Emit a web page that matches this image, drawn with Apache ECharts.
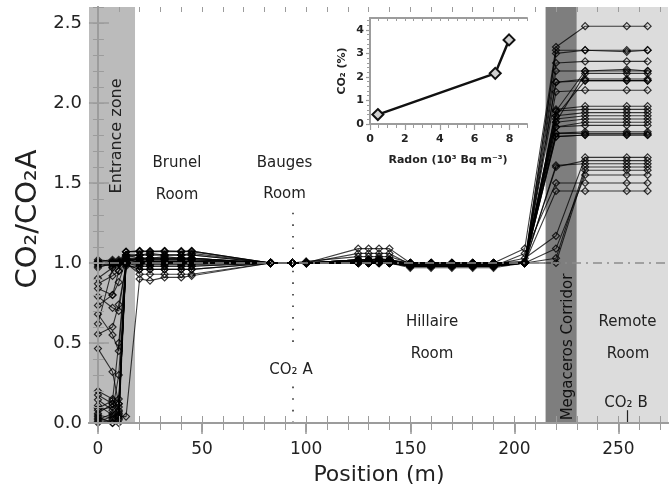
<!DOCTYPE html>
<html>
<head>
<meta charset="utf-8">
<script src="https://cdn.jsdelivr.net/npm/echarts@6/dist/echarts.min.js"></script>
<style>
html,body{margin:0;padding:0;background:#fff}
#chart{width:669px;height:491px}
</style>
</head>
<body>
<div id="chart"></div>
<script>
// measuring positions along the cave (m)
var positions = [0, 7, 10, 13.5, 20, 25, 32, 40, 45, 83, 93.5, 100, 125, 130, 135, 140, 150, 160, 170, 180, 190, 205, 220, 234, 254, 264];

// CO2/CO2A profiles, one value per position
var profile01 = [1.01,1.00,1.01,1.07, 1.07,1.07,1.07,1.07,1.07, 1.0,1.0,1.0, 1.09,1.09,1.09,1.09, 1.0,1.0,1.0,0.99,1.0, 1.09, 2.35, 2.48,2.48,2.48];
var profile02 = [1.00,1.01,1.00,1.05, 1.05,1.06,1.05,1.05,1.06, 1.0,1.0,1.0, 1.06,1.06,1.06,1.06, 0.99,0.99,0.99,0.99,0.99, 1.0, 2.33, 2.33,2.33,2.33];
var profile03 = [0.99,1.00,1.02,1.03, 1.03,1.03,1.04,1.03,1.03, 1.0,1.0,1.01, 1.04,1.04,1.04,1.04, 1.0,1.0,1.0,1.0,1.0, 1.01, 2.31, 2.33,2.32,2.33];
var profile04 = [1.02,1.01,1.00,1.00, 1.01,1.01,1.00,1.01,1.00, 1.0,1.0,1.0, 1.02,1.02,1.02,1.02, 0.98,0.98,0.98,0.98,0.98, 1.0, 2.25, 2.26,2.26,2.26];
var profile05 = [0.98,0.99,1.00,1.01, 1.00,1.00,1.00,1.00,1.00, 1.0,1.0,1.0, 1.01,1.01,1.01,1.01, 0.99,0.99,0.99,0.99,0.99, 1.0, 1.95, 2.20,2.20,2.20];
var profile06 = [1.00,0.98,0.99,1.00, 0.98,0.98,0.98,0.98,0.98, 1.0,1.0,1.0, 1.02,1.02,1.03,1.02, 1.0,1.0,1.0,1.0,1.0, 1.0, 2.20, 2.20,2.21,2.20];
var profile07 = [0.97,1.00,1.01,1.02, 1.02,1.02,1.02,1.02,1.02, 1.0,1.0,1.0, 1.00,1.00,1.00,1.00, 0.98,0.98,0.98,0.98,0.98, 1.0, 1.88, 2.185,2.185,2.185];
var profile08 = [1.01,1.02,1.00,0.99, 0.96,0.96,0.96,0.96,0.96, 1.0,1.0,1.0, 1.01,1.01,1.01,1.01, 0.99,0.99,0.99,0.99,0.99, 1.0, 2.13, 2.15,2.15,2.15];
var profile09 = [0.905,0.97,1.00,1.04, 1.05,1.05,1.05,1.05,1.05, 1.0,1.0,1.0, 1.02,1.02,1.02,1.02, 1.0,1.0,1.0,1.0,1.0, 1.0, 2.13, 2.14,2.14,2.14];
var profile10 = [0.87,0.92,0.95,1.00, 1.00,1.00,1.00,1.00,1.00, 1.0,1.0,1.0, 1.00,1.00,1.00,1.00, 0.99,0.99,0.99,0.99,0.99, 1.0, 1.92, 2.14,2.14,2.14];
var profile11 = [0.84,0.80,0.88,1.02, 1.03,1.03,1.03,1.03,1.03, 1.0,1.0,1.0, 1.01,1.01,1.01,1.01, 0.98,0.98,0.98,0.98,0.98, 1.0, 2.07, 2.08,2.08,2.08];
var profile12 = [0.79,0.72,0.70,1.00, 1.01,1.01,1.01,1.01,1.01, 1.0,1.0,1.0, 1.00,1.00,1.00,1.00, 1.0,1.0,1.0,1.0,1.0, 1.0, 1.96, 1.98,1.98,1.98];
var profile13 = [0.735,0.80,0.95,1.07, 1.075,1.075,1.075,1.075,1.075, 1.0,1.0,1.0, 1.02,1.02,1.02,1.02, 0.99,0.99,0.99,0.99,0.99, 1.0, 1.95, 1.96,1.96,1.96];
var profile14 = [0.68,0.55,0.45,1.00, 1.00,1.00,1.00,1.00,1.00, 1.0,1.0,1.0, 1.00,1.00,1.00,1.00, 0.97,0.97,0.97,0.97,0.97, 1.0, 1.92, 1.94,1.94,1.94];
var profile15 = [0.62,0.97,1.00,1.03, 1.02,1.02,1.02,1.02,1.02, 1.0,1.0,1.0, 1.01,1.01,1.01,1.01, 1.0,1.0,1.0,1.0,1.0, 1.0, 1.90, 1.92,1.92,1.92];
var profile16 = [0.555,0.60,0.74,0.98, 0.98,0.98,0.98,0.98,0.98, 1.0,1.0,1.0, 1.00,1.00,1.00,1.00, 0.99,0.99,0.99,0.99,0.99, 1.0, 1.88, 1.90,1.90,1.90];
var profile17 = [0.465,0.32,0.12,1.05, 1.05,1.05,1.05,1.05,1.05, 1.0,1.0,1.0, 1.02,1.02,1.02,1.02, 0.98,0.98,0.98,0.98,0.98, 1.0, 1.85, 1.88,1.88,1.88];
var profile18 = [0.20,0.15,0.08,1.00, 1.00,1.00,1.00,1.00,1.00, 1.0,1.0,1.0, 1.00,1.00,1.00,1.00, 1.0,1.0,1.0,1.0,1.0, 1.0, 1.85, 1.86,1.86,1.86];
var profile19 = [0.175,0.12,0.05,1.02, 1.01,1.01,1.01,1.01,1.01, 1.0,1.0,1.0, 1.00,1.00,1.00,1.00, 0.99,0.99,0.99,0.99,0.99, 1.0, 1.81, 1.82,1.82,1.82];
var profile20 = [0.145,0.08,0.30,1.00, 1.00,1.00,1.00,1.00,1.00, 1.0,1.0,1.0, 1.01,1.01,1.01,1.01, 0.99,0.99,0.99,0.99,0.99, 1.0, 1.81, 1.81,1.81,1.81];
var profile21 = [0.11,0.05,0.02,1.07, 1.075,1.07,1.075,1.07,1.075, 1.0,1.0,1.0, 1.00,1.00,1.00,1.00, 0.98,0.98,0.98,0.98,0.98, 1.0, 1.79, 1.80,1.80,1.80];
var profile22 = [0.08,0.10,0.12,1.00, 0.99,0.99,0.99,0.99,0.99, 1.0,1.0,1.0, 1.00,1.00,1.00,1.00, 1.0,1.0,1.0,1.0,1.0, 1.0, 1.79, 1.80,1.80,1.80];
var profile23 = [0.05,0.03,0.06,1.01, 1.03,1.03,1.03,1.03,1.03, 1.0,1.0,1.0, 1.01,1.01,1.01,1.01, 0.99,0.99,0.99,0.99,0.99, 1.03, 1.17, 1.66,1.66,1.66];
var profile24 = [0.03,0.00,0.04,0.04, 0.90,0.89,0.91,0.91,0.92, 1.0,1.0,1.0, 1.00,1.00,1.00,1.00, 0.99,0.99,0.99,0.99,0.99, 1.0, 1.60, 1.64,1.64,1.64];
var profile25 = [0.02,0.06,0.10,1.03, 1.00,1.00,1.00,1.00,1.00, 1.0,1.0,1.0, 1.00,1.00,1.00,1.00, 0.98,0.98,0.98,0.98,0.98, 1.0, 1.61, 1.62,1.62,1.62];
var profile26 = [0.00,0.02,0.00,1.00, 1.01,1.01,1.01,1.01,1.01, 1.0,1.0,1.0, 1.01,1.01,1.01,1.01, 0.99,0.99,0.99,0.99,0.99, 1.0, 1.03, 1.60,1.60,1.60];
var profile27 = [0.06,0.12,0.15,0.99, 0.96,0.96,0.96,0.96,0.96, 1.0,1.0,1.0, 1.00,1.00,1.00,1.00, 1.0,1.0,1.0,1.0,1.0, 1.0, 1.00, 1.58,1.58,1.58];
var profile28 = [0.01,0.04,0.07,1.02, 1.02,1.02,1.02,1.02,1.02, 1.0,1.0,1.0, 1.02,1.02,1.02,1.02, 0.99,0.99,0.99,0.99,0.99, 1.0, 1.09, 1.55,1.55,1.55];
var profile29 = [0.04,0.00,0.03,1.05, 1.03,1.03,1.03,1.03,1.03, 1.0,1.0,1.0, 1.00,1.00,1.00,1.00, 0.98,0.98,0.98,0.98,0.98, 1.06, 1.50, 1.50,1.50,1.50];
var profile30 = [0.09,0.14,0.50,1.00, 0.93,0.93,0.93,0.93,0.93, 1.0,1.0,1.0, 1.00,1.00,1.00,1.00, 0.99,0.99,0.99,0.99,0.99, 1.0, 1.45, 1.45,1.45,1.45];
var profiles = [profile01,profile02,profile03,profile04,profile05,profile06,profile07,profile08,profile09,profile10,
                profile11,profile12,profile13,profile14,profile15,profile16,profile17,profile18,profile19,profile20,
                profile21,profile22,profile23,profile24,profile25,profile26,profile27,profile28,profile29,profile30];

// inset: CO2 (%) vs radon
var radon = [0.45, 7.18, 7.97];
var co2pct = [0.40, 2.15, 3.57];

// zones and reference positions (m)
var entranceEnd = 17.8;
var corridorStart = 215;
var corridorEnd = 230;
var co2aPos = 93.5;
var co2bPos = 254.2;

// tick labels
var xMajor = [0, 50, 100, 150, 200, 250];
var yMajor = [0, 0.5, 1.0, 1.5, 2.0, 2.5];
var insetXMajor = [0, 2, 4, 6, 8];
var insetYMajor = [0, 1, 2, 3, 4];

function steps(a, b, s){
  var out = [];
  for (var v = a; v <= b + 1e-9; v += s) out.push(Math.round(v * 1000) / 1000);
  return out;
}
var xMinor = steps(0, 270, 10);
var yMinor = steps(0, 2.6, 0.1);
var insetXMinor = steps(0, 9, 0.5);
var insetYMinor = steps(0, 4.4, 0.2);

var XMIN = -4.3, XMAX = 273.8;
var FONT = 'DejaVu Sans';
var FRAME = '#9c9c9c';
var INK = '#222';

var chart = echarts.init(document.getElementById('chart'), null, {renderer: 'canvas'});

// helper: an axis that only draws ticks (drawn above the shaded zones)
function tickAxis(base, ticks, len, inside, width, line){
  return Object.assign({
    type: 'value', z: 10,
    splitLine: {show: false},
    axisLabel: {show: false},
    axisLine: {show: !!line, lineStyle: {color: FRAME, width: 2}},
    axisTick: {show: true, customValues: ticks, length: len, inside: inside,
               lineStyle: {color: FRAME, width: width}}
  }, base);
}

var mainX = {gridIndex: 0, min: XMIN, max: XMAX};
var mainY = {gridIndex: 0, min: 0, max: 2.6};
var insX = {gridIndex: 1, min: 0, max: 9};
var insY = {gridIndex: 1, min: 0, max: 4.5};

var xAxes = [
  tickAxis(Object.assign({position: 'bottom'}, mainX), xMajor, 11, false, 1.5, true),
  tickAxis(Object.assign({position: 'bottom'}, mainX), xMinor, 7, false, 1),
  tickAxis(Object.assign({position: 'bottom'}, mainX), xMinor, 7, true, 1),
  tickAxis(Object.assign({position: 'top'}, mainX), xMajor, 9, true, 1.5, true),
  tickAxis(Object.assign({position: 'top'}, mainX), xMinor, 5, true, 1),
  tickAxis(Object.assign({position: 'bottom'}, insX), insetXMajor, 6, false, 1.2, true),
  tickAxis(Object.assign({position: 'bottom'}, insX), insetXMinor, 4, false, 1),
  tickAxis(Object.assign({position: 'top'}, insX), insetXMinor, 3, true, 1, true)
];
xAxes[0].axisLabel = {show: true, customValues: xMajor, margin: 18, color: INK,
                      fontFamily: FONT, fontSize: 17};
xAxes[5].axisLabel = {show: true, customValues: insetXMajor, margin: 10, color: INK,
                      fontFamily: FONT, fontSize: 11, fontWeight: 'bold'};

var yAxes = [
  tickAxis(Object.assign({position: 'left'}, mainY), yMajor, 11, true, 1.5, true),
  tickAxis(Object.assign({position: 'left'}, mainY), yMinor, 6, true, 1),
  tickAxis(Object.assign({position: 'right'}, mainY), yMajor, 9, true, 1.5, true),
  tickAxis(Object.assign({position: 'right'}, mainY), yMinor, 5, true, 1),
  tickAxis(Object.assign({position: 'left'}, insY), insetYMajor, 4, false, 1.2, true),
  tickAxis(Object.assign({position: 'right'}, insY), insetYMinor, 3, true, 1, true)
];
yAxes[0].axisLabel = {show: true, customValues: yMajor, margin: 7, color: INK,
                      fontFamily: FONT, fontSize: 18,
                      formatter: function (v){ return v.toFixed(1); }};
yAxes[4].axisLabel = {show: true, customValues: insetYMajor, margin: 6, color: INK,
                      fontFamily: FONT, fontSize: 11, fontWeight: 'bold'};

var series = [];

// shaded zones
series.push({
  type: 'line', xAxisIndex: 0, yAxisIndex: 0, data: [[0, 1]], symbol: 'none',
  lineStyle: {opacity: 0}, silent: true, z: 1,
  markArea: {
    silent: true,
    data: [
      [{xAxis: XMIN, itemStyle: {color: '#bbbbbb'}}, {xAxis: entranceEnd}],
      [{xAxis: corridorStart, itemStyle: {color: '#7e7e7e'}}, {xAxis: corridorEnd}],
      [{xAxis: corridorEnd, itemStyle: {color: '#dcdcdc'}}, {xAxis: XMAX}]
    ]
  }
});

// reference lines
series.push({
  type: 'line', xAxisIndex: 0, yAxisIndex: 0, data: [[0, 1]], symbol: 'none',
  lineStyle: {opacity: 0}, silent: true, z: 2,
  markLine: {
    silent: true, symbol: ['none', 'none'], label: {show: false}, animation: false,
    data: [
      {yAxis: 1.0, lineStyle: {color: '#8c8c8c', width: 1.5, type: [9, 5, 2, 5]}},
      [{coord: [co2aPos, 0], lineStyle: {color: '#333', width: 1.6, type: [1.6, 10]}}, {coord: [co2aPos, 0.25]}],
      [{coord: [co2aPos, 0.507], lineStyle: {color: '#333', width: 1.6, type: [1.6, 10]}}, {coord: [co2aPos, 1.37]}],
      [{coord: [co2bPos, 0], lineStyle: {color: '#222', width: 1.2, type: 'solid'}}, {coord: [co2bPos, 0.08]}]
    ]
  }
});

profiles.forEach(function (p){
  series.push({
    type: 'line', xAxisIndex: 0, yAxisIndex: 0, z: 3,
    data: positions.map(function (x, i){ return [x, p[i]]; }),
    symbol: 'diamond', symbolSize: 7, showAllSymbol: true,
    lineStyle: {color: 'rgba(0,0,0,0.75)', width: 1.1},
    itemStyle: {color: 'rgba(255,255,255,0)', borderColor: 'rgba(0,0,0,0.8)', borderWidth: 1.2},
    emphasis: {disabled: true}, silent: true
  });
});

series.push({
  type: 'line', xAxisIndex: 5, yAxisIndex: 4, z: 5,
  data: radon.map(function (x, i){ return [x, co2pct[i]]; }),
  symbol: 'diamond', symbolSize: 11,
  lineStyle: {color: '#111', width: 2.5},
  itemStyle: {color: '#d0d0d0', borderColor: '#111', borderWidth: 2},
  emphasis: {disabled: true}, silent: true
});

function txt(s, x, y, size, opts){
  opts = opts || {};
  return {
    type: 'text', x: x, y: y, z: 100, rotation: opts.rot || 0, silent: true,
    style: {
      text: s, fill: opts.color || INK,
      font: (opts.bold ? 'bold ' : '') + size + 'px "' + FONT + '"',
      align: 'center', verticalAlign: 'middle',
      textAlign: 'center', textVerticalAlign: 'middle'
    }
  };
}
var R = Math.PI / 2;

var option = {
  animation: false,
  backgroundColor: '#fff',
  grid: [
    {left: 89, top: 7, width: 579, height: 416},
    {left: 370, top: 18, width: 157, height: 106, show: true, backgroundColor: '#fff', borderWidth: 0, z: 4}
  ],
  xAxis: xAxes,
  yAxis: yAxes,
  series: series,
  graphic: [
    txt('CO₂/CO₂A', 28, 219, 29, {rot: R}),
    txt('Position (m)', 379, 475, 22),
    txt('Entrance zone', 117, 136, 16, {rot: R}),
    txt('Brunel', 177, 163, 15),
    txt('Room', 177, 195, 15),
    txt('Bauges', 284.5, 163, 15),
    txt('Room', 284.5, 194, 15),
    txt('Hillaire', 432, 322, 15),
    txt('Room', 432, 354, 15),
    txt('Remote', 627.5, 322, 15),
    txt('Room', 628, 354, 15),
    txt('CO₂ A', 291, 370, 15),
    txt('CO₂ B', 626, 403, 15),
    txt('Megaceros Corridor', 568, 347, 15, {rot: R, color: '#111'}),
    txt('CO₂ (%)', 342, 71, 11, {rot: R, bold: true}),
    txt('Radon (10³ Bq m⁻³)', 448, 160, 11, {bold: true})
  ]
};
chart.setOption(option);
</script>
</body>
</html>
